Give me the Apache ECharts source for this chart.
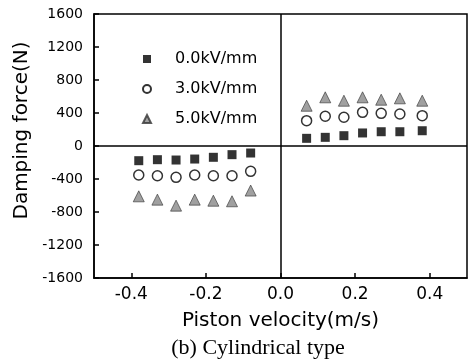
<!DOCTYPE html>
<html>
<head>
<meta charset="utf-8">
<script src="https://cdn.jsdelivr.net/npm/echarts@6/dist/echarts.min.js"></script>
<style>
  html, body { margin: 0; padding: 0; background: #fff; }
  #chart { width: 470px; height: 360px; }
</style>
</head>
<body>
<div id="chart"></div>
<script>
// Piston velocity (m/s) for the rebound and compression strokes
const velocityNeg = [-0.38, -0.33, -0.28, -0.23, -0.18, -0.13, -0.08];
const velocityPos = [0.07, 0.12, 0.17, 0.22, 0.27, 0.32, 0.38];

// Damping force (N) at each field strength
const force0kV = [-178, -166, -170, -158, -137, -105, -85, 93, 105, 125, 158, 173, 173, 185];
const force3kV = [-352, -360, -380, -352, -360, -360, -307, 307, 360, 348, 408, 396, 388, 368];
const force5kV = [-610, -650, -723, -650, -663, -670, -540, 488, 590, 549, 590, 561, 578, 549];

const seriesNames = ['0.0kV/mm', '3.0kV/mm', '5.0kV/mm'];
const xTickValues = [-0.4, -0.2, 0.0, 0.2, 0.4];

const velocity = velocityNeg.concat(velocityPos);
const pairs = ys => velocity.map((v, i) => [v, ys[i]]);

const sansFont = 'DejaVu Sans';

const chart = echarts.init(document.getElementById('chart'), null, { renderer: 'canvas' });

chart.setOption({
  animation: false,
  backgroundColor: '#fff',
  grid: {
    left: 94, right: 3, top: 14, bottom: 82,
    show: true, borderColor: '#000', borderWidth: 1.5, backgroundColor: 'transparent'
  },
  title: {
    text: '(b) Cylindrical type',
    left: 253,
    textAlign: 'center',
    bottom: -4,
    textStyle: { fontFamily: 'Liberation Serif', fontSize: 22, fontWeight: 'normal', color: '#000' }
  },
  legend: {
    orient: 'vertical',
    left: 137, top: 46,
    itemWidth: 8, itemHeight: 8, itemGap: 14,
    data: seriesNames,
    textStyle: { fontFamily: sansFont, fontSize: 16, color: '#000', padding: [0, 0, 0, 19] }
  },
  xAxis: {
    type: 'value',
    min: -0.5, max: 0.5,
    name: 'Piston velocity(m/s)',
    nameLocation: 'middle', nameGap: 33,
    nameTextStyle: { fontFamily: sansFont, fontSize: 20, color: '#000' },
    axisLine: { show: true, onZero: false, lineStyle: { color: '#000', width: 1.5 } },
    axisTick: { show: true, inside: true, length: 5, customValues: xTickValues, lineStyle: { color: '#000', width: 1.5 } },
    axisLabel: {
      customValues: xTickValues, margin: 8,
      fontFamily: sansFont, fontSize: 17, color: '#000',
      formatter: v => v.toFixed(1)
    },
    splitLine: { show: false }
  },
  yAxis: {
    type: 'value',
    min: -1600, max: 1600, interval: 400,
    name: 'Damping force(N)',
    nameLocation: 'middle', nameGap: 59, nameRotate: 90,
    nameTextStyle: { fontFamily: sansFont, fontSize: 20, color: '#000', padding: [0, 0, 0, 31] },
    axisLine: { show: true, onZero: false, lineStyle: { color: '#000', width: 1.5 } },
    axisTick: { show: true, inside: true, length: 5, lineStyle: { color: '#000', width: 1.5 } },
    axisLabel: {
      fontFamily: sansFont, fontSize: 14, color: '#000', margin: 11,
      formatter: v => String(v)
    },
    splitLine: { show: false }
  },
  series: [
    {
      name: seriesNames[0], type: 'scatter', symbol: 'rect', symbolSize: 9,
      itemStyle: { color: '#000' },
      data: pairs(force0kV),
      markLine: {
        silent: true, symbol: 'none', label: { show: false },
        lineStyle: { color: '#000', width: 1.5, type: 'solid' },
        data: [{ xAxis: 0 }, { yAxis: 0 }]
      }
    },
    {
      name: seriesNames[1], type: 'scatter', symbol: 'circle', symbolSize: 10,
      itemStyle: { color: '#fff', borderColor: '#000', borderWidth: 1.5 },
      data: pairs(force3kV)
    },
    {
      name: seriesNames[2], type: 'scatter', symbol: 'triangle', symbolSize: 11,
      itemStyle: { color: '#888', borderColor: '#333', borderWidth: 0.8 },
      data: pairs(force5kV)
    }
  ]
});
</script>
</body>
</html>
